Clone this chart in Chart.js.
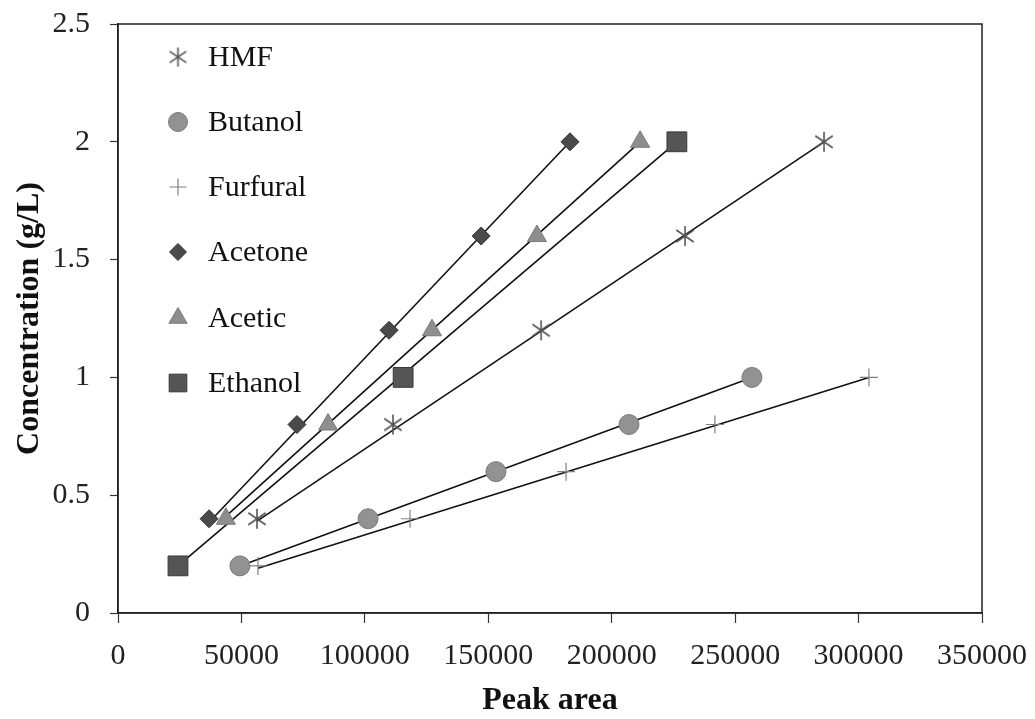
<!DOCTYPE html>
<html>
<head>
<meta charset="utf-8">
<script src="https://cdn.jsdelivr.net/npm/chart.js@4.4.1/dist/chart.umd.min.js"></script>
<style>
  body { margin: 0; background: #fff; }
  #wrap { width: 1035px; height: 719px; }
</style>
</head>
<body>
<div id="wrap"><canvas id="calChart" width="1035" height="719"></canvas></div>
<script>
// peak area (x) vs concentration g/L (y)
var seriesNames = ['HMF', 'Butanol', 'Furfural', 'Acetone', 'Acetic', 'Ethanol'];

var hmfArea = [56300, 111400, 171400, 229700, 286000];
var hmfConc = [0.4, 0.8, 1.2, 1.6, 2.0];

var butanolArea = [49400, 101300, 153100, 207000, 256800];
var butanolConc = [0.2, 0.4, 0.6, 0.8, 1.0];

var furfuralArea = [56700, 118300, 181500, 241800, 304200];
var furfuralConc = [0.2, 0.4, 0.6, 0.8, 1.0];

var acetoneArea = [36900, 72500, 109800, 147100, 183100];
var acetoneConc = [0.4, 0.8, 1.2, 1.6, 2.0];

var aceticArea = [43700, 85100, 127200, 169700, 211500];
var aceticConc = [0.4, 0.8, 1.2, 1.6, 2.0];

var ethanolArea = [24300, 115500, 226400];
var ethanolConc = [0.2, 1.0, 2.0];

// trendline ends (start, end) as drawn in the figure
var hmfTrendArea = [56300, 286000];
var hmfTrendConc = [0.39, 2.0];
var butanolTrendArea = [49400, 256800];
var butanolTrendConc = [0.2, 1.0];
var furfuralTrendArea = [56700, 304200];
var furfuralTrendConc = [0.19, 1.0];
var acetoneTrendArea = [36900, 183100];
var acetoneTrendConc = [0.385, 2.0];
var aceticTrendArea = [42100, 211500];
var aceticTrendConc = [0.395, 2.0];
var ethanolTrendArea = [24300, 226400];
var ethanolTrendConc = [0.2, 2.0];

var yTicks = [0, 0.5, 1, 1.5, 2, 2.5];
var yTickLabels = ['0', '0.5', '1', '1.5', '2', '2.5'];
var xTicks = [0, 50000, 100000, 150000, 200000, 250000, 300000, 350000];

function toPoints(xs, ys) {
    var pts = [];
    for (var i = 0; i < xs.length; i++) {
        pts.push({x: xs[i], y: ys[i]});
    }
    return pts;
}

// asterisk marker like the Excel one: vertical stroke plus an X
function makeAsterisk(size, color) {
    var c = document.createElement('canvas');
    c.width = size;
    c.height = size;
    var g = c.getContext('2d');
    var m = size / 2, r = size / 2 - 1;
    g.strokeStyle = color;
    g.lineWidth = 1.6;
    g.beginPath();
    g.moveTo(m, m - r); g.lineTo(m, m + r);
    g.moveTo(m - r * 0.87, m - r * 0.6); g.lineTo(m + r * 0.87, m + r * 0.6);
    g.moveTo(m - r * 0.87, m + r * 0.6); g.lineTo(m + r * 0.87, m - r * 0.6);
    g.stroke();
    return c;
}

var asterisk = makeAsterisk(22, '#555');
var asteriskSmall = makeAsterisk(21, '#555');

var markerStyles = [
    {pointStyle: asterisk, legendStyle: asteriskSmall, radius: 11, bg: '#555', border: '#555', bw: 1},
    {pointStyle: 'circle', radius: 10, bg: '#929292', border: '#7a7a7a', bw: 1},
    {pointStyle: 'cross', radius: 9, bg: '#808080', border: '#808080', bw: 1.2},
    {pointStyle: 'rectRot', radius: 9, bg: '#4a4a4a', border: '#333', bw: 1},
    {pointStyle: 'triangle', radius: 11, bg: '#8e8e8e', border: '#7a7a7a', bw: 1},
    {pointStyle: 'rect', radius: 14, bg: '#555', border: '#3a3a3a', bw: 1}
];

var markerData = [
    toPoints(hmfArea, hmfConc),
    toPoints(butanolArea, butanolConc),
    toPoints(furfuralArea, furfuralConc),
    toPoints(acetoneArea, acetoneConc),
    toPoints(aceticArea, aceticConc),
    toPoints(ethanolArea, ethanolConc)
];

var trendData = [
    toPoints(hmfTrendArea, hmfTrendConc),
    toPoints(butanolTrendArea, butanolTrendConc),
    toPoints(furfuralTrendArea, furfuralTrendConc),
    toPoints(acetoneTrendArea, acetoneTrendConc),
    toPoints(aceticTrendArea, aceticTrendConc),
    toPoints(ethanolTrendArea, ethanolTrendConc)
];

var datasets = [];
for (var t = 0; t < trendData.length; t++) {
    datasets.push({
        label: seriesNames[t] + ' trend',
        data: trendData[t],
        showLine: true,
        borderColor: '#111',
        borderWidth: 1.6,
        pointRadius: 0,
        fill: false,
        order: 2
    });
}
for (var s = 0; s < markerData.length; s++) {
    var ms = markerStyles[s];
    datasets.push({
        label: seriesNames[s],
        data: markerData[s],
        showLine: false,
        pointStyle: ms.pointStyle,
        pointRadius: ms.radius,
        pointBackgroundColor: ms.bg,
        pointBorderColor: ms.border,
        pointBorderWidth: ms.bw,
        order: 1
    });
}

// frame round the plot area
var frameBox = {
    id: 'frameBox',
    afterDatasetsDraw: function(chart) {
        var a = chart.chartArea, ctx = chart.ctx;
        ctx.save();
        ctx.strokeStyle = '#222';
        ctx.lineWidth = 1.5;
        ctx.strokeRect(a.left, a.top, a.right - a.left, a.bottom - a.top);
        ctx.restore();
    }
};

// legend inside the plot, one entry per row
var insideLegend = {
    id: 'insideLegend',
    afterDraw: function(chart) {
        var ctx = chart.ctx;
        var rowY = [57, 122, 187, 252, 318, 383];
        ctx.save();
        for (var i = 0; i < seriesNames.length; i++) {
            var ms = markerStyles[i];
            var sizeFix = ms.pointStyle === 'rect' ? 12.5 : ms.radius - 0.5;
            ctx.fillStyle = ms.bg;
            ctx.strokeStyle = ms.border;
            ctx.lineWidth = ms.bw;
            Chart.helpers.drawPoint(ctx, {
                pointStyle: ms.legendStyle || ms.pointStyle,
                radius: sizeFix,
                rotation: 0,
                borderWidth: ms.bw
            }, 178, rowY[i]);
            ctx.fillStyle = '#111';
            ctx.font = '30px "Liberation Serif", "Times New Roman", serif';
            ctx.textBaseline = 'middle';
            ctx.textAlign = 'left';
            ctx.fillText(seriesNames[i], 208, rowY[i] + 1);
        }
        ctx.restore();
    }
};

new Chart(document.getElementById('calChart'), {
    type: 'scatter',
    data: { datasets: datasets },
    options: {
        responsive: false,
        animation: false,
        devicePixelRatio: 1,
        layout: { padding: { top: 24, right: 53, left: 0, bottom: 0 } },
        plugins: {
            legend: { display: false },
            tooltip: { enabled: false }
        },
        scales: {
            x: {
                type: 'linear',
                min: 0,
                max: 350000,
                afterBuildTicks: function(scale) {
                    scale.ticks = xTicks.map(function(v) { return {value: v}; });
                },
                afterFit: function(scale) {
                    scale.height = 106;
                    scale.paddingLeft = 0;
                    scale.paddingRight = 0;
                },
                grid: { drawOnChartArea: false, tickLength: 10, color: '#333', tickWidth: 1.2 },
                border: { color: '#222', width: 1.5 },
                ticks: {
                    color: '#222',
                    padding: 15,
                    maxRotation: 0,
                    autoSkip: false,
                    font: { family: '"Liberation Serif", "Times New Roman", serif', size: 30 },
                    callback: function(v) { return String(v); }
                },
                title: {
                    display: true,
                    text: 'Peak area',
                    color: '#111',
                    font: { family: '"Liberation Serif", "Times New Roman", serif', size: 32, weight: 'bold', lineHeight: 1 },
                    padding: { top: 0, bottom: 2 }
                }
            },
            y: {
                type: 'linear',
                min: 0,
                max: 2.5,
                afterBuildTicks: function(scale) {
                    scale.ticks = yTicks.map(function(v) { return {value: v}; });
                },
                afterFit: function(scale) {
                    scale.width = 118;
                    scale.paddingTop = 0;
                    scale.paddingBottom = 0;
                },
                grid: { drawOnChartArea: false, tickLength: 8, color: '#333', tickWidth: 1.2 },
                border: { color: '#222', width: 1.5 },
                ticks: {
                    color: '#222',
                    padding: 20,
                    autoSkip: false,
                    font: { family: '"Liberation Serif", "Times New Roman", serif', size: 30 },
                    callback: function(v) { return yTickLabels[yTicks.indexOf(v)]; }
                },
                title: {
                    display: true,
                    text: 'Concentration (g/L)',
                    color: '#111',
                    font: { family: '"Liberation Serif", "Times New Roman", serif', size: 32, weight: 'bold', lineHeight: 1 },
                    padding: { top: 14, bottom: 0 }
                }
            }
        }
    },
    plugins: [frameBox, insideLegend]
});
</script>
</body>
</html>
